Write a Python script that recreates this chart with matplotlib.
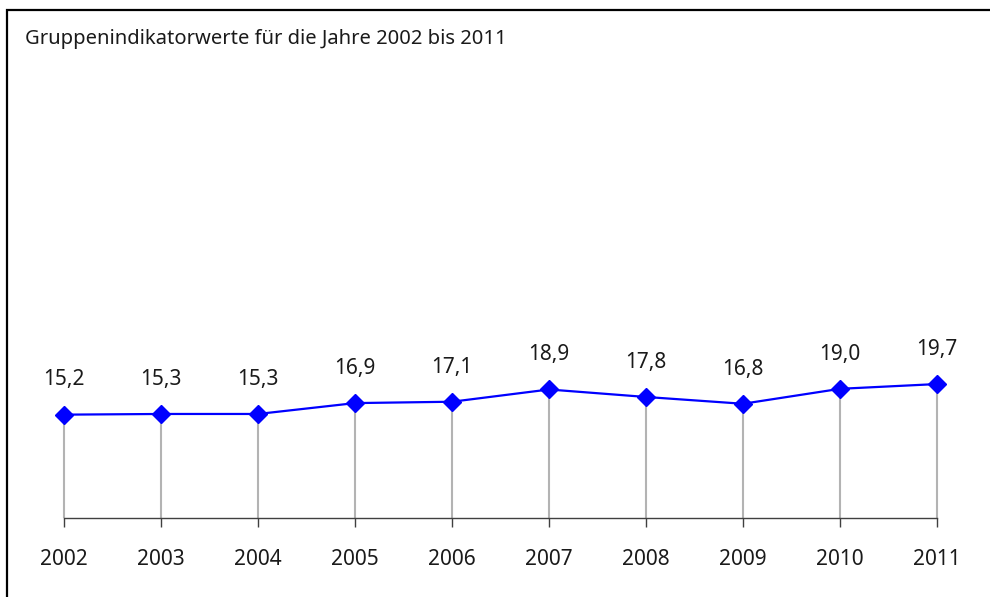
import matplotlib.pyplot as plt
from matplotlib.patches import Rectangle

years = ["2002", "2003", "2004", "2005", "2006", "2007", "2008", "2009", "2010", "2011"]
values = [15.2, 15.3, 15.3, 16.9, 17.1, 18.9, 17.8, 16.8, 19.0, 19.7]
title = "Gruppenindikatorwerte für die Jahre 2002 bis 2011"

plt.rcParams['font.family'] = ['Noto Sans', 'DejaVu Sans']

W, H = 990, 597
fig = plt.figure(figsize=(W / 100, H / 100), dpi=100)

# outer frame, runs off the right and bottom edge like in the source
fig.patches.append(Rectangle((7 / W, -0.1), 1.2, 1.1 - 10.5 / H, transform=fig.transFigure,
                             fill=False, edgecolor="black", linewidth=1.6))
fig.text(25 / W, 1 - 39 / H, title, fontsize=14.5, color="#1a1a1a", va="center", ha="left")

ax = fig.add_axes([64 / W, 79 / H, (937 - 64) / W, (518 - 40) / H])
x = list(range(len(years)))

ax.vlines(x, 0, values, color="#b3b3b3", linewidth=1.5, zorder=1, clip_on=False)
ax.plot(x, values, color="#0000ff", linewidth=1.6, marker="D", markersize=9, zorder=3, clip_on=False)

for xi, v in zip(x, values):
    ax.annotate(f"{v:.1f}".replace(".", ","), (xi, v), xytext=(0, 25), textcoords="offset points",
                ha="center", va="center", fontsize=15, color="#1a1a1a")

ax.set_xlim(0, 9)
ax.set_ylim(0, 70.3)
ax.set_xticks(x)
ax.set_xticklabels(years, fontsize=15, color="#1a1a1a")
ax.set_yticks([])
ax.tick_params(axis="x", direction="out", length=6.5, width=1, color="#404040", pad=16)
for side in ["top", "right", "left"]:
    ax.spines[side].set_visible(False)
ax.spines["bottom"].set_color("#404040")
ax.spines["bottom"].set_linewidth(1)
ax.patch.set_alpha(0)

fig.savefig("out.png", dpi=100)
